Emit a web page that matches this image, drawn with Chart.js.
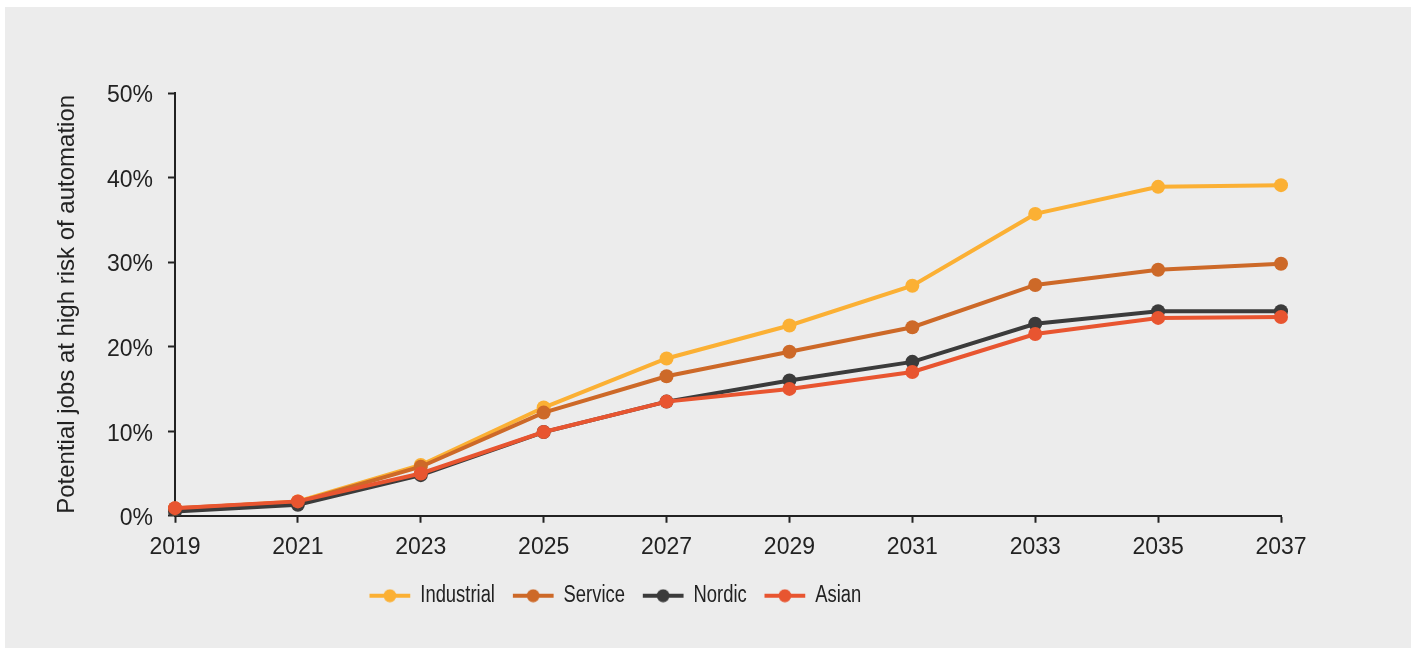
<!DOCTYPE html>
<html>
<head>
<meta charset="utf-8">
<script src="https://cdn.jsdelivr.net/npm/chart.js@4/dist/chart.umd.min.js"></script>
<style>
  html, body { margin: 0; padding: 0; background: #ffffff; }
  #wrap { position: relative; width: 1416px; height: 648px; }
</style>
</head>
<body>
<div id="wrap"><canvas id="c" width="1416" height="648"></canvas></div>
<script>
const years = ['2019','2021','2023','2025','2027','2029','2031','2033','2035','2037'];
const industrial = [0.8, 1.7, 6.0, 12.8, 18.6, 22.5, 27.2, 35.7, 38.9, 39.1];
const service    = [0.9, 1.6, 5.8, 12.2, 16.5, 19.4, 22.3, 27.3, 29.1, 29.8];
const nordic     = [0.5, 1.3, 4.8, 9.9, 13.5, 16.0, 18.2, 22.7, 24.2, 24.2];
const asian      = [0.9, 1.7, 5.0, 9.9, 13.5, 15.0, 17.0, 21.5, 23.4, 23.5];
const seriesNames = ['Industrial', 'Service', 'Nordic', 'Asian'];
const yTicks = [0, 10, 20, 30, 40, 50];

const colors = ['#FBB034', '#CD6928', '#3B3B3B', '#E85530'];
const FONT = '"Liberation Sans", Arial, Helvetica, sans-serif';
const SQUEEZE = 0.8;          // legend is set in a condensed face
const LEGEND_CX = 615;        // horizontal centre of the legend

function legendIcon(color) {
  const w = Math.round(42 / SQUEEZE);
  const c = document.createElement('canvas');
  c.width = w; c.height = 14;
  const g = c.getContext('2d');
  g.strokeStyle = color; g.lineWidth = 4;
  g.beginPath(); g.moveTo(1, 7); g.lineTo(w - 1, 7); g.stroke();
  g.fillStyle = color;
  g.beginPath(); g.ellipse(w / 2, 7, 6.5 / SQUEEZE, 6.5, 0, 0, Math.PI * 2); g.fill();
  return c;
}
const icons = colors.map(legendIcon);

const panelPlugin = {
  id: 'panel',
  beforeDraw(chart) {
    const ctx = chart.ctx;
    ctx.save();
    ctx.fillStyle = '#ffffff';
    ctx.fillRect(0, 0, chart.width, chart.height);
    ctx.fillStyle = '#ececec';
    ctx.fillRect(5, 7, 1406, 641);
    ctx.restore();
    const lg = chart.legend;
    if (lg) {
      const h = lg.bottom - lg.top;
      lg.left = LEGEND_CX - 700; lg.right = LEGEND_CX + 700;
      lg.top = 563; lg.bottom = 563 + h;
      if (!lg._squeezed) {
        const orig = lg.draw;
        lg.draw = function (...args) {
          const c = this.ctx;
          c.save();
          c.translate(LEGEND_CX, 0);
          c.scale(SQUEEZE, 1);
          c.translate(-LEGEND_CX, 0);
          orig.apply(this, args);
          c.restore();
        };
        lg._squeezed = true;
      }
    }
  }
};

const values = [industrial, service, nordic, asian];
const datasets = seriesNames.map((name, i) => ({
  label: name,
  data: values[i],
  borderColor: colors[i],
  backgroundColor: colors[i],
  pointBackgroundColor: colors[i],
  pointBorderColor: colors[i],
  borderWidth: 4,
  pointRadius: 7,
  pointHoverRadius: 7,
  pointBorderWidth: 0,
  tension: 0,
  fill: false,
  order: 4 - i
}));

new Chart(document.getElementById('c'), {
  type: 'line',
  data: { labels: years, datasets },
  plugins: [panelPlugin],
  options: {
    responsive: false,
    animation: false,
    events: [],
    layout: { padding: { left: 0, right: 135, top: 93, bottom: 10 } },
    plugins: {
      tooltip: { enabled: false },
      legend: {
        display: true,
        position: 'bottom',
        labels: {
          usePointStyle: true,
          pointStyleWidth: Math.round(42 / SQUEEZE),
          boxHeight: 14,
          padding: 17 / SQUEEZE,
          color: '#222222',
          font: { family: FONT, size: 23 },
          sort: (a, b) => a.datasetIndex - b.datasetIndex,
          generateLabels(chart) {
            const items = Chart.defaults.plugins.legend.labels.generateLabels(chart);
            items.forEach(it => { it.pointStyle = icons[it.datasetIndex]; });
            return items;
          }
        }
      }
    },
    scales: {
      x: {
        type: 'category',
        offset: false,
        grid: { display: true, drawOnChartArea: false, drawTicks: true, tickLength: 7, tickColor: '#222222', tickWidth: 2 },
        border: { display: true, color: '#222222', width: 2 },
        ticks: { color: '#222222', font: { family: FONT, size: 23 }, padding: 11, maxRotation: 0, autoSkip: false },
        afterFit(scale) { scale.height = 68; }
      },
      y: {
        min: 0, max: 50,
        afterBuildTicks(scale) { scale.ticks = yTicks.map(v => ({ value: v })); },
        grid: { display: true, drawOnChartArea: false, drawTicks: true, tickLength: 7, tickColor: '#222222', tickWidth: 2 },
        border: { display: true, color: '#222222', width: 2 },
        ticks: { color: '#222222', font: { family: FONT, size: 23 }, padding: 15, labelOffset: 3, callback: v => v + '%' },
        title: {
          display: true,
          text: 'Potential jobs at high risk of automation',
          color: '#222222',
          font: { family: FONT, size: 24 },
          padding: { top: 53, bottom: 0 }
        },
        afterFit(scale) { scale.width = 175; }
      }
    }
  }
});
</script>
</body>
</html>
